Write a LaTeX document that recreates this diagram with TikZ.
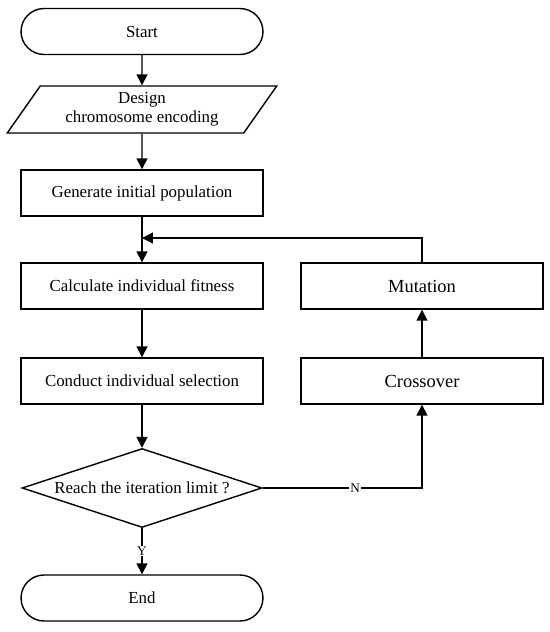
\documentclass[tikz,border=0pt]{standalone}
\usepackage{fontspec}
\setmainfont{Liberation Serif}
\usetikzlibrary{shapes.geometric, arrows.meta}

\begin{document}
\begin{tikzpicture}[->, >={Triangle[length=6.2pt, width=6.2pt]}, x=0.02cm, y=-0.02cm, line width=0.8pt,
        every node/.style={font=\fontsize{9.6}{11.5}\selectfont}]
            \tikzset{
                terminal/.style={
                        rectangle, draw, rounded corners=0.46cm, minimum width=4.84cm, minimum height=0.92cm, inner sep=1pt
                    },
                process/.style={
                        rectangle, draw, minimum width=4.84cm, minimum height=0.92cm, inner sep=1pt
                    },
                inout/.style={
                        trapezium, draw, trapezium left angle=56, trapezium right angle=124, trapezium stretches=true,
                        minimum width=5.4cm, minimum height=0.94cm, inner sep=1pt, align=center,
                        font=\fontsize{9.6}{11}\selectfont
                    },
                decision/.style={
                        diamond, draw, shape aspect=3.04, minimum width=4.8cm, minimum height=1.58cm, inner sep=0pt
                    },
                opbox/.style={
                        process, font=\fontsize{10.5}{12}\selectfont
                    },
                tag/.style={
                        fill=white, inner sep=0.5pt, font=\fontsize{7.5}{9}\selectfont
                    }
            }

            \useasboundingbox (0,0) rectangle (550,632);

            % Main column
            \node[terminal] (start) at (142,31.5) {Start};
            \node[inout] (design) at (142,109.5) {Design\\chromosome encoding};
            \node[process] (init) at (142,193) {Generate initial population};
            \node[process] (fit) at (142,286) {Calculate individual fitness};
            \node[process] (sel) at (142,381) {Conduct individual selection};
            \node[decision] (limit) at (142,488) {Reach the iteration limit ?};
            \node[terminal] (end) at (142,598) {End};

            % Genetic operators
            \node[opbox] (mut) at (422,286) {Mutation};
            \node[opbox] (cross) at (422,381) {Crossover};

            \coordinate (join) at (142,238);

            \draw (start) -- (design);
            \draw (design) -- (init);
            \draw (init) -- (fit);
            \draw (fit) -- (sel);
            \draw (sel) -- (limit);
            \draw (limit) -- node[tag]{Y} (end);

            % Loop back
            \draw (limit.east) -| node[tag, pos=0.29]{N} (cross.south);
            \draw (cross) -- (mut);
            \draw (mut.north) |- (join);
        \end{tikzpicture}
\end{document}
